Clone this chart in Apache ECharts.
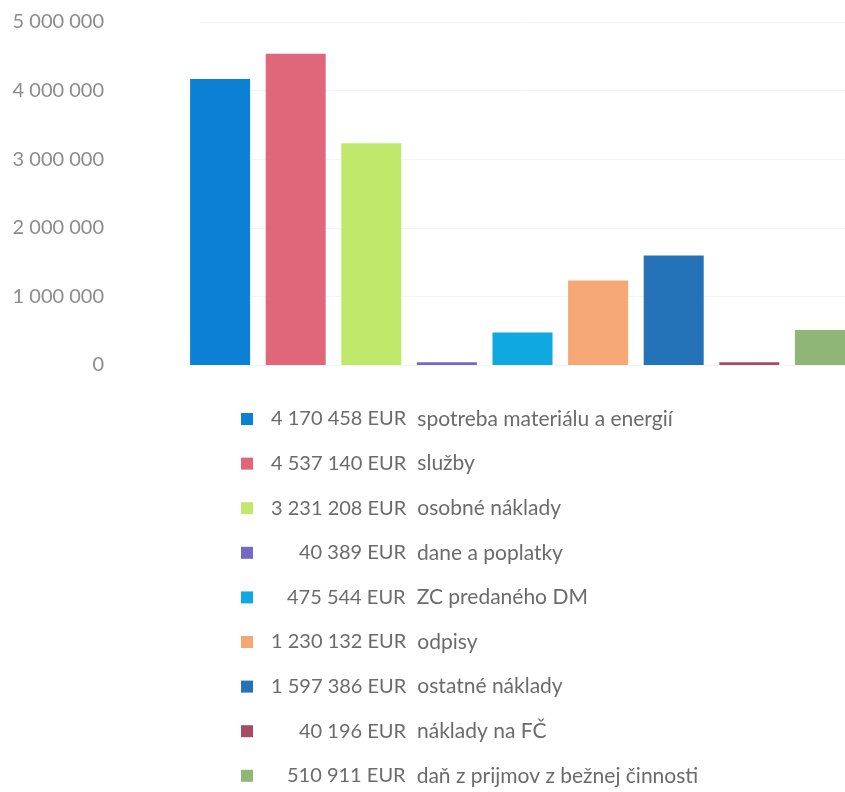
<!DOCTYPE html>
<html><head><meta charset="utf-8">
<script src="https://cdn.jsdelivr.net/npm/echarts@6/dist/echarts.min.js"></script>
<style>html,body{margin:0;padding:0;background:#fff}#c{width:845px;height:792px}</style>
</head><body><div id="c"></div>
<script>
const categories = ["spotreba materiálu a energií","služby","osobné náklady","dane a poplatky","ZC predaného DM","odpisy","ostatné náklady","náklady na FČ","daň z prijmov z bežnej činnosti"];
const values = [4170458, 4537140, 3231208, 40389, 475544, 1230132, 1597386, 40196, 510911];
const colors = ["#0b80d4","#e0677a","#c0e96c","#7668c6","#10a8e0","#f5a776","#2473b8","#a64b62","#8fb676"];
const yTicks = [0, 1000000, 2000000, 3000000, 4000000, 5000000];

function fmt(n){ return String(n).replace(/\B(?=(\d{3})+(?!\d))/g, ' '); }

const FONT = 'Lato';
const NSIZE = 20;
const LSIZE = 21;
const ctx = document.createElement('canvas').getContext('2d');
ctx.font = NSIZE + 'px ' + FONT;
const NUMW = 148;

const rich = {
  n: {padding: [0,0,0,11], color: '#6b6b6b', fontFamily: FONT, fontSize: LSIZE}
};
categories.forEach((name, i) => {
  const t = fmt(values[i]) + ' EUR';
  const pad = Math.max(0, Math.round(NUMW - ctx.measureText(t).width));
  rich['v' + i] = {padding: [0,0,0,pad], color: '#6b6b6b', fontFamily: FONT, fontSize: NSIZE};
});

const chart = echarts.init(document.getElementById('c'), null, {renderer:'canvas'});
const series = categories.map((name, i) => ({
  name: name,
  type: 'bar',
  barWidth: 60,
  barGap: '26%',
  clip: false,
  itemStyle: {color: colors[i]},
  data: [values[i]]
}));
chart.setOption({
  animation: false,
  color: colors,
  grid: {left: 200, right: 0, top: 22, bottom: 427},
  xAxis: {type: 'category', data: ['Náklady'], axisLine: {show: false}, axisTick: {show: false}, axisLabel: {show: false}},
  yAxis: {type: 'value', min: yTicks[0], max: yTicks[yTicks.length-1], interval: 1000000,
    axisLine: {show: false}, axisTick: {show: false},
    splitLine: {lineStyle: {color: '#f4f4f4'}},
    axisLabel: {margin: 96, color: '#8c8c8c', fontFamily: FONT, fontSize: 20, formatter: v => fmt(v)}},
  legend: {
    orient: 'vertical', left: 236, top: 402, height: 400, itemWidth: 12, itemHeight: 12, itemGap: 20.6,
    icon: 'rect',
    data: categories,
    formatter: name => {
      const i = categories.indexOf(name);
      return '{v' + i + '|' + fmt(values[i]) + ' EUR}{n|' + name + '}';
    },
    textStyle: {color: '#6b6b6b', fontFamily: FONT, fontSize: LSIZE, lineHeight: 24, rich: rich}
  },
  series: series
});
</script></body></html>
